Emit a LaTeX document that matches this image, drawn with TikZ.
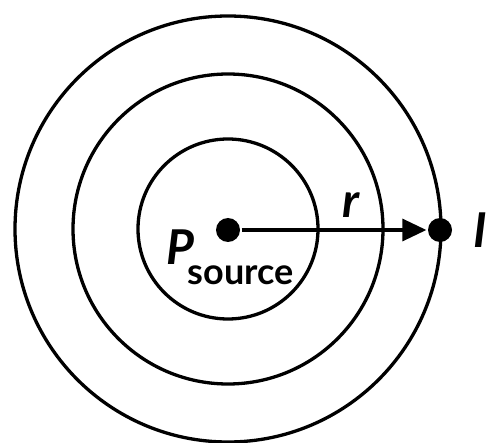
\documentclass[tikz,border=0pt]{standalone}
\usepackage{fontspec}
\newfontfamily\labfont{Lato}
\usetikzlibrary{arrows.meta,positioning}

\begin{document}
\begin{tikzpicture}[
  x=1pt,y=1pt,
  line width=3.3pt,
  dot/.style={circle,fill,inner sep=0pt,minimum size=24pt},
  lbl/.style={font=\labfont\bfseries\itshape\fontsize{48}{48}\selectfont,inner sep=0pt},
  >={Triangle[length=24pt,width=22pt]}]
\useasboundingbox (0,0) rectangle (487,442);
\coordinate (c) at (228,213);
\foreach \rad in {90,155,213}
  \draw (c) circle[radius=\rad];
\node[dot] (src) at (228,212) {};
\node[dot] (snk) at (440,212) {};
\draw[->] (src) -- (snk) node[lbl,pos=0.59,above=11pt] (rlbl) {r};
\node[lbl,right=18pt of snk] (ilbl) {I};
\node[lbl,anchor=base west] (plbl) at (165,177)
  {P\kern-7pt\raisebox{-20pt}{\upshape\fontsize{36}{36}\selectfont source}};
\end{tikzpicture}
\end{document}
